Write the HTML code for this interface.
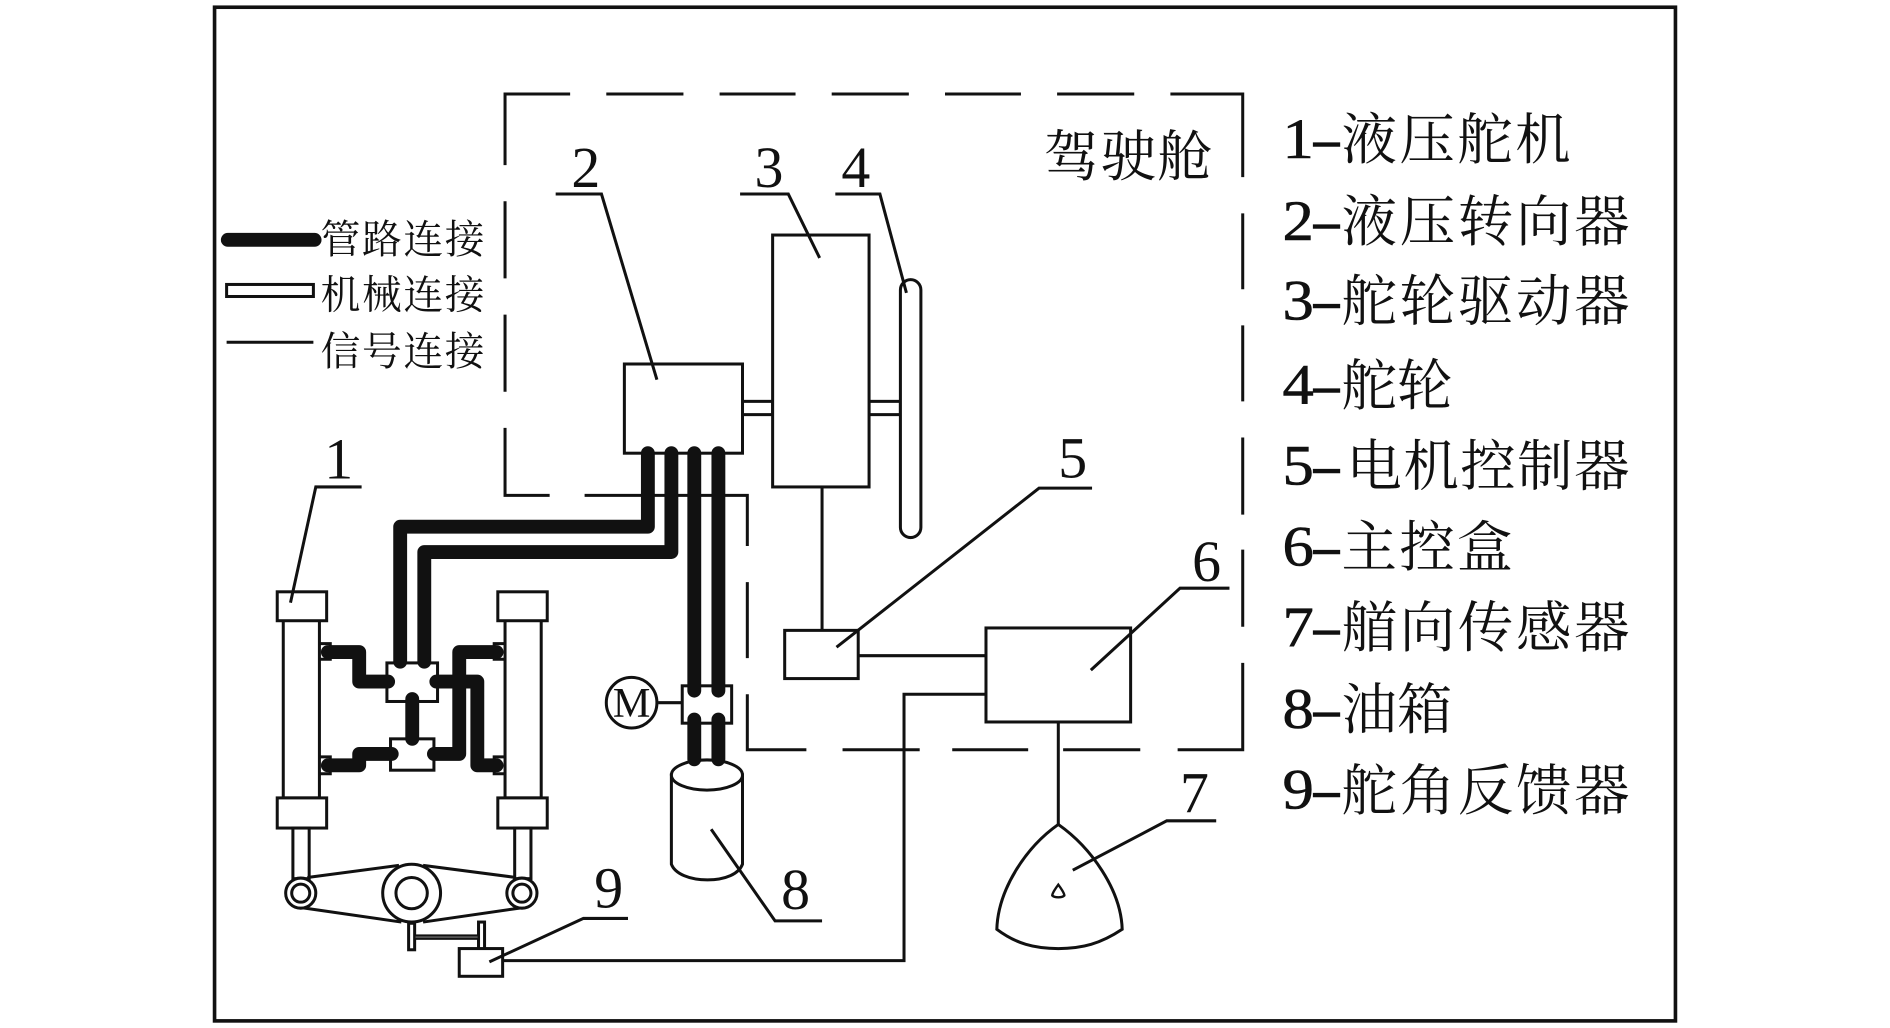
<!DOCTYPE html>
<html lang="zh">
<head>
<meta charset="utf-8">
<title>Diagram</title>
<style>
html,body{margin:0;padding:0;background:#fff;width:1890px;height:1028px;overflow:hidden}
svg{display:block}
.l{fill:none;stroke:#111;stroke-width:2.5}
.w{fill:#fff;stroke:#111;stroke-width:2.5}
.p{fill:none;stroke:#111;stroke-width:11.5;stroke-linecap:round;stroke-linejoin:round}
.n{font-family:"Liberation Serif",serif;font-size:48px;fill:#111;text-anchor:middle}
.d{font-family:"Liberation Serif",serif;font-size:47px;fill:#111;stroke:#111;stroke-width:.5}
.b{font-family:"Liberation Serif",serif;font-size:47px;fill:#111;stroke:#111;stroke-width:1.2}
.c{font-family:"Liberation Serif","Noto Serif CJK SC",serif;font-size:46px;fill:#111}
.s{font-family:"Liberation Serif","Noto Serif CJK SC",serif;font-size:33px;fill:#111}
</style>
</head>
<body>
<svg width="1890" height="1028" viewBox="0 0 1568 852.9" preserveAspectRatio="none" xmlns="http://www.w3.org/2000/svg">
<rect x="0" y="0" width="1568" height="853" fill="#fff"/>
<rect x="178" y="6" width="1212" height="841" fill="none" stroke="#111" stroke-width="3"/>

<!-- dashed cabin outline -->
<path class="l" d="M473 78H419V137M503 78H567M597 78H660M690 78H754M784 78H847M877 78H941M971 78H1031V147M1031 177V240M1031 270V333M1031 363V427M1031 456V520M1031 550V622H977M946 622H882M853 622H790M763 622H699M669 622H620V576M620 546V483M620 453V411H485M456 411H419V355M419 325V261M419 231V167"/>

<!-- legend -->
<line x1="189" y1="199" x2="261" y2="199" stroke="#111" stroke-width="11.5" stroke-linecap="round"/>
<rect class="w" x="188" y="236" width="72" height="10"/>
<line class="l" x1="188" y1="284" x2="260" y2="284"/>
<text class="s" x="266" y="210" textLength="136">管路连接</text>
<text class="s" x="266" y="256" textLength="136">机械连接</text>
<text class="s" x="266" y="303" textLength="136">信号连接</text>

<!-- signal lines -->
<path class="l" d="M682 404V523M712 544H818M818 576H750V797H417M878 599V684M546 583H566"/>

<!-- shafts -->
<rect class="w" x="616" y="333" width="25" height="11"/>
<rect class="w" x="721" y="333" width="26" height="11"/>

<!-- boxes -->
<rect class="w" x="518" y="302" width="98" height="74"/>
<rect class="w" x="641" y="195" width="80" height="209"/>
<rect class="w" x="747" y="232" width="17" height="214" rx="8.5"/>
<rect class="w" x="651" y="523" width="61" height="40"/>
<rect class="w" x="818" y="521" width="120" height="78"/>

<!-- sensor 7 -->
<path class="w" d="M878 684C905 703 930 738 931 771C913 783 898 787 878 787C858 787 843 783 827 771C828 738 851 703 878 684Z"/>
<path class="l" d="M878 734C875 738 873 741 873 743C875 745 881 745 883 743C883 741 881 738 878 734Z" style="stroke-width:2"/>

<!-- tank 8 -->
<path class="w" d="M557 643V717C560 725 572 730 587 730C602 730 613 725 616 717V643Z"/>
<ellipse class="w" cx="586.5" cy="643" rx="29.5" ry="12.5"/>

<!-- motor -->
<circle class="w" cx="524" cy="583" r="21"/>
<text x="524" y="595" font-family="Liberation Serif,serif" font-size="35" fill="#111" text-anchor="middle">M</text>
<rect class="w" x="566" y="569" width="41" height="31"/>

<!-- cylinders -->
<rect class="w" x="235" y="514" width="30" height="148"/>
<rect class="w" x="230" y="491" width="41" height="24"/>
<rect class="w" x="230" y="662" width="41" height="25"/>
<rect class="w" x="243" y="687" width="13.5" height="42"/>
<rect class="w" x="419" y="514" width="30" height="148"/>
<rect class="w" x="413" y="491" width="41" height="24"/>
<rect class="w" x="413" y="662" width="41" height="25"/>
<rect class="w" x="427" y="687" width="13.5" height="42"/>

<!-- ports -->
<path class="l" d="M265 534H274V547H265M265 628H274V642H265M419 534H410V547H419M419 628H410V642H419"/>

<!-- tiller -->
<path class="l" d="M255 728L331 718M351 718L428 728M250 753L333 765M351 765L434 753"/>
<circle class="w" cx="249.5" cy="741" r="12.5"/><circle class="w" cx="249.5" cy="741" r="7.5"/>
<circle class="w" cx="433" cy="741" r="12.5"/><circle class="w" cx="433" cy="741" r="7.5"/>
<circle class="w" cx="341.5" cy="741" r="24"/><circle class="w" cx="341.5" cy="741" r="13"/>
<rect class="w" x="339" y="766" width="5" height="22"/>
<rect class="w" x="397" y="765" width="5" height="23"/>
<rect x="344" y="776" width="53" height="3" fill="#555" stroke="#111" stroke-width="1.5"/>
<rect class="w" x="381" y="787" width="36" height="23"/>

<!-- valves -->
<rect class="w" x="321" y="550" width="42" height="32"/>
<rect class="w" x="324" y="613" width="36" height="26"/>

<!-- pipes -->
<path class="p" d="M537.5 376V437H332V549M557 376V458H352V549M576 376V573M596 376V573M576 597V630M596 597V630"/>
<path class="p" d="M272 541H298V565.5H322M342 580V613M362 565.5H396V635H412M412 541H381V625.5H360M272 635H298V625.5H325"/>

<!-- leaders -->
<path class="l" d="M300 404H262L241 500"/>
<path class="l" d="M461 161H499L545 315"/>
<path class="l" d="M614 161H654L680 214"/>
<path class="l" d="M693 161H730L752 243"/>
<path class="l" d="M906 405H862L694 537"/>
<path class="l" d="M1020 488H979L905 556"/>
<path class="l" d="M1009 681H968L890 722"/>
<path class="l" d="M682 764H643L590 688"/>
<path class="l" d="M521 762H484L406 798"/>

<!-- numbers -->
<text class="n" x="281" y="397">1</text>
<text class="n" x="486" y="155">2</text>
<text class="n" x="638" y="155">3</text>
<text class="n" x="710" y="155">4</text>
<text class="n" x="890" y="396">5</text>
<text class="n" x="1001" y="482">6</text>
<text class="n" x="991" y="674">7</text>
<text class="n" x="660" y="754">8</text>
<text class="n" x="505" y="753">9</text>

<text class="c" x="866" y="146" textLength="140">驾驶舱</text>

<!-- parts list -->
<text class="d" x="1064" y="131" textLength="26" lengthAdjust="spacingAndGlyphs">1</text><text class="b" x="1090" y="131" textLength="21" lengthAdjust="spacingAndGlyphs">–</text><text class="c" x="1113" y="132" textLength="190">液压舵机</text>
<text class="d" x="1064" y="199" textLength="26" lengthAdjust="spacingAndGlyphs">2</text><text class="b" x="1090" y="199" textLength="21" lengthAdjust="spacingAndGlyphs">–</text><text class="c" x="1113" y="200" textLength="239">液压转向器</text>
<text class="d" x="1064" y="265" textLength="26" lengthAdjust="spacingAndGlyphs">3</text><text class="b" x="1090" y="265" textLength="21" lengthAdjust="spacingAndGlyphs">–</text><text class="c" x="1113" y="266" textLength="239">舵轮驱动器</text>
<text class="d" x="1064" y="335" textLength="26" lengthAdjust="spacingAndGlyphs">4</text><text class="b" x="1090" y="335" textLength="21" lengthAdjust="spacingAndGlyphs">–</text><text class="c" x="1113" y="336" textLength="92">舵轮</text>
<text class="d" x="1064" y="402" textLength="26" lengthAdjust="spacingAndGlyphs">5</text><text class="b" x="1090" y="402" textLength="21" lengthAdjust="spacingAndGlyphs">–</text><text class="c" x="1117" y="403" textLength="235">电机控制器</text>
<text class="d" x="1064" y="469" textLength="26" lengthAdjust="spacingAndGlyphs">6</text><text class="b" x="1090" y="469" textLength="21" lengthAdjust="spacingAndGlyphs">–</text><text class="c" x="1113" y="470" textLength="142">主控盒</text>
<text class="d" x="1064" y="536" textLength="26" lengthAdjust="spacingAndGlyphs">7</text><text class="b" x="1090" y="536" textLength="21" lengthAdjust="spacingAndGlyphs">–</text><text class="c" x="1113" y="537" textLength="239">艏向传感器</text>
<text class="d" x="1064" y="604" textLength="26" lengthAdjust="spacingAndGlyphs">8</text><text class="b" x="1090" y="604" textLength="21" lengthAdjust="spacingAndGlyphs">–</text><text class="c" x="1113" y="605" textLength="92">油箱</text>
<text class="d" x="1064" y="671" textLength="26" lengthAdjust="spacingAndGlyphs">9</text><text class="b" x="1090" y="671" textLength="21" lengthAdjust="spacingAndGlyphs">–</text><text class="c" x="1113" y="672" textLength="239">舵角反馈器</text>
</svg>
</body>
</html>
